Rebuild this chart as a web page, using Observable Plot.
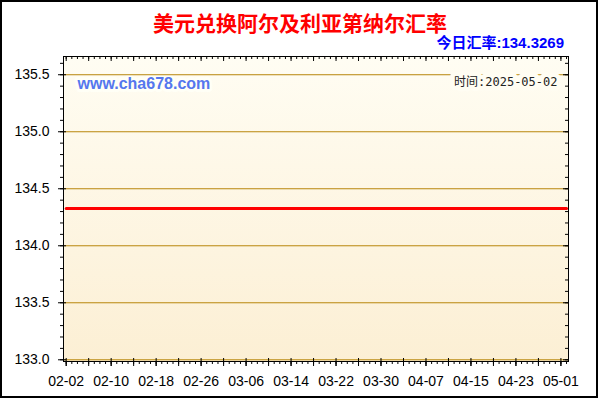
<!DOCTYPE html>
<html>
<head>
<meta charset="utf-8">
<script src="https://cdn.jsdelivr.net/npm/d3@7"></script>
<script src="https://cdn.jsdelivr.net/npm/@observablehq/plot@0.6"></script>
<style>
  html, body { margin: 0; padding: 0; background: #fff; }
  #wrap { position: relative; width: 600px; height: 400px; overflow: hidden; background: #fff; }
  #chart { position: absolute; left: 0; top: 0; }
  #border { position: absolute; left: 0; top: 0; width: 598px; height: 398px; box-sizing: border-box; border: 2px solid #000; pointer-events: none; }
  #title { position: absolute; left: 0; width: 600px; top: 8px; text-align: center; color: #ff0000; font: bold 21px "Noto Sans CJK SC", sans-serif; line-height: 28px; }
  #rate { position: absolute; right: 36px; top: 33px; color: #0000ff; font: bold 15px "Liberation Sans", "Noto Sans CJK SC", sans-serif; line-height: 20px; }
</style>
</head>
<body>
<div id="wrap">
  <div id="title">美元兑换阿尔及利亚第纳尔汇率</div>
  <div id="rate">今日汇率:134.3269</div>
  <div id="chart"></div>
  <div id="border"></div>
</div>
<script>
// ---- data ----
const dates = ["2025-02-02", "2025-05-02"];
const rates = [134.3269, 134.3269];
const xTickLabels = ["02-02","02-10","02-18","02-26","03-06","03-14","03-22","03-30","04-07","04-15","04-23","05-01"];
const yTickValues = [133.0, 133.5, 134.0, 134.5, 135.0, 135.5];
const watermark = "www.cha678.com";
const dateLabel = "时间:2025-05-02";

// ---- build ----
const parse = d3.utcParse("%Y-%m-%d");
const data = dates.map((d, i) => ({date: parse(d), rate: rates[i]}));
const xTicks = xTickLabels.map(s => parse("2025-" + s));
const xStart = parse("2025-02-02"), xEnd = parse("2025-05-02");
const dayTicks = d3.utcDay.range(xStart, d3.utcDay.offset(xEnd, 1));
const fourDayTicks = dayTicks.filter((d, i) => i % 4 === 0);
const yMinor = d3.range(1330, 1357).map(v => v / 10);

const W = 600, H = 400, mL = 63, mR = 32, mT = 56, mB = 39;
const plotW = W - mL - mR, plotH = H - mT - mB;

function gradientDefs() {
  const ns = "http://www.w3.org/2000/svg";
  const defs = document.createElementNS(ns, "defs");
  const lg = document.createElementNS(ns, "linearGradient");
  lg.setAttribute("id", "bggrad");
  lg.setAttribute("x1", "0"); lg.setAttribute("y1", "0");
  lg.setAttribute("x2", "0"); lg.setAttribute("y2", "1");
  [["0", "#fffdf3"], ["1", "#fcefd4"]].forEach(([o, c]) => {
    const s = document.createElementNS(ns, "stop");
    s.setAttribute("offset", o); s.setAttribute("stop-color", c);
    lg.appendChild(s);
  });
  defs.appendChild(lg);
  return defs;
}

const chart = Plot.plot({
  width: W, height: H,
  marginLeft: mL, marginRight: mR, marginTop: mT, marginBottom: mB,
  style: {fontFamily: "'Liberation Sans', Arial, sans-serif", fontSize: "14px", color: "#000", background: "transparent"},
  x: {type: "utc", domain: [new Date(Date.UTC(2025,1,1,12,30)), new Date(Date.UTC(2025,4,2,8,24))]},
  y: {domain: [132.985, 135.66]},
  marks: [
    gradientDefs,
    Plot.frame({fill: "url(#bggrad)", stroke: "none"}),
    Plot.text([watermark], {frameAnchor: "top-left", dx: 14, dy: 21, fill: "#5577ee", fontWeight: "bold", fontSize: 16, stroke: "#fffff6", strokeWidth: 6, textAnchor: "start", lineAnchor: "top"}),
    Plot.gridY(yTickValues, {stroke: "#b8860b", strokeOpacity: 1, strokeWidth: 1}),
    Plot.text([dateLabel], {frameAnchor: "top-right", dx: -11, dy: 21, fill: "#222", fontSize: 12, fontFamily: "'DejaVu Sans Mono', 'Noto Sans CJK SC', monospace", stroke: "#fffdf3", strokeWidth: 9, textAnchor: "end", lineAnchor: "top"}),
    Plot.line(data, {x: "date", y: "rate", stroke: "#ff0000", strokeWidth: 3}),
    Plot.frame({stroke: "#000", strokeWidth: 1}),
    // left axis (labels + major ticks)
    Plot.axisY(yTickValues, {tickSize: 5, tickPadding: 9, tickFormat: d3.format(".1f"), label: null, fontSize: 14, stroke: "#000"}),
    // left minor outside ticks
    Plot.tickY(yMinor, {stroke: "#000", insetRight: plotW, insetLeft: -3}),
    // left major inside part
    Plot.tickY(yTickValues, {stroke: "#000", insetRight: plotW - 3}),
    // right inside ticks
    Plot.tickY(yMinor, {stroke: "#000", insetLeft: plotW - 3}),
    Plot.tickY(yTickValues, {stroke: "#000", insetLeft: plotW - 5}),
    // bottom axis (labels + major ticks)
    Plot.axisX(xTicks, {tickSize: 5, tickPadding: 10, tickFormat: d3.utcFormat("%m-%d"), label: null, fontSize: 14, stroke: "#000"}),
    // bottom 4-day ticks outside and inside
    Plot.tickX(fourDayTicks, {stroke: "#000", insetTop: plotH - 3, insetBottom: -5}),
    // bottom daily ticks outside
    Plot.tickX(dayTicks, {stroke: "#000", insetTop: plotH, insetBottom: -3}),
    // top inside ticks
    Plot.tickX(dayTicks, {stroke: "#000", insetBottom: plotH - 3}),
    Plot.tickX(fourDayTicks, {stroke: "#000", insetBottom: plotH - 5})
  ]
});
document.getElementById("chart").appendChild(chart);
</script>
</body>
</html>
